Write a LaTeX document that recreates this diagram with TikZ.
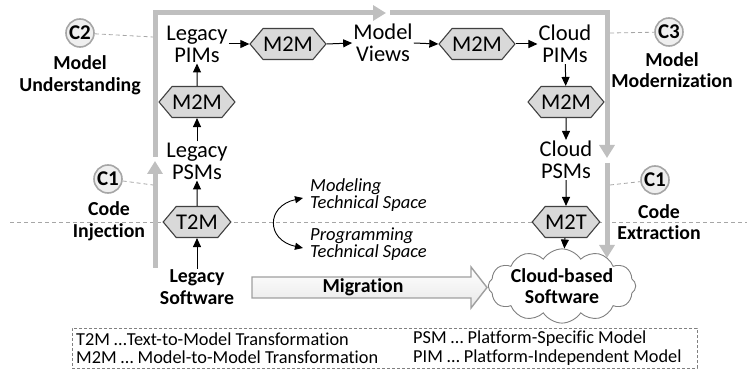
\documentclass[tikz,border=0pt]{standalone}
\usepackage{fontspec}
\setmainfont{Carlito}[Ligatures={NoCommon}]
\usetikzlibrary{arrows.meta,shapes.symbols,shapes.geometric,calc}

\definecolor{framegray}{HTML}{BFBFBF}
\definecolor{hexfill}{HTML}{D9D9D9}
\definecolor{hexline}{HTML}{404040}
\definecolor{dashgray}{HTML}{A6A6A6}
\definecolor{circfill}{HTML}{EFEFEF}

\tikzset{
  lbl/.style={align=center, inner sep=1pt, font=\fontsize{22.5}{22}\selectfont},
  boldlbl/.style={align=center, inner sep=1pt, font=\fontsize{19.8}{21.5}\selectfont\bfseries},
  itlbl/.style={align=left, inner sep=1pt, font=\fontsize{18.5}{17}\selectfont\itshape},
  hexbox/.style={shape=signal, signal to=east and west, signal pointer angle=100,
    minimum width=63pt, minimum height=31pt, inner sep=0pt, fill=hexfill, draw=hexline,
    line width=1.1pt, font=\fontsize{22.5}{22}\selectfont},
  flow/.style={draw=black, line width=1pt, -{Triangle[width=8pt,length=9pt]}},
  frame/.style={draw=framegray, line width=5pt, line join=miter,
    -{Triangle[width=15pt,length=13pt]}},
  cmark/.style={circle, minimum size=28pt, inner sep=0pt, fill=circfill, draw=dashgray,
    line width=1.6pt, font=\fontsize{21}{21}\selectfont\bfseries},
  leader/.style={draw=dashgray, line width=0.8pt, dash pattern=on 4pt off 3pt},
  legtxt/.style={anchor=west, inner sep=0pt, font=\fontsize{18.3}{18}\selectfont}
}

\begin{document}
\begin{tikzpicture}[x=1pt,y=-1pt]
\useasboundingbox (0,0) rectangle (747,371);

% space divider
\coordinate (divL) at (10,222);
\coordinate (divR) at (747,222);
\draw[leader] (divL) -- (divR);

% outer process frame
\coordinate (f1a) at (155,268);
\coordinate (f1b) at (155,161);
\coordinate (f2a) at (155,157);
\coordinate (f2c) at (155,13);
\coordinate (f2b) at (386,13);
\coordinate (f3a) at (390,13);
\coordinate (f3c) at (607,13);
\coordinate (f3b) at (607,158);
\coordinate (f4a) at (607,163);
\coordinate (f4b) at (607,258);
\draw[frame] (f1a) -- (f1b);
\draw[frame] (f2a) -- (f2c) -- (f2b);
\draw[frame] (f3a) -- (f3c) -- (f3b);
\draw[frame] (f4a) -- (f4b);

% artefacts
\node[lbl] (lpim) at (197,44) {Legacy\\PIMs};
\node[lbl] (lpsm) at (197,161) {Legacy\\PSMs};
\node[boldlbl] (lsw) at (197,287) {Legacy\\Software};
\node[lbl] (mview) at (383,43) {Model\\Views};
\node[lbl] (cpim) at (565,44) {Cloud\\PIMs};
\node[lbl] (cpsm) at (566,160) {Cloud\\PSMs};
\node[cloud, cloud puffs=12, cloud puff arc=115, aspect=2.6, draw=gray, fill=white,
  line width=0.9pt, minimum width=144pt, minimum height=56pt, inner sep=0pt,
  align=center, font=\fontsize{19.8}{21.5}\selectfont\bfseries] (csw) at (562,286)
  {Cloud-based\\Software};

% transformations
\node[hexbox] (t2m) at (197,222) {T2M};
\node[hexbox] (m2ma) at (197,102) {M2M};
\node[hexbox] (m2mb) at (288,44) {M2M};
\node[hexbox] (m2mc) at (477,44) {M2M};
\node[hexbox] (m2md) at (566,102) {M2M};
\node[hexbox] (m2t) at (566,222) {M2T};

% transformation chain
\draw[flow] (lsw) -- (t2m);
\draw[flow] (t2m) -- (lpsm);
\draw[flow] (lpsm) -- (m2ma);
\draw[flow] (m2ma) -- (lpim);
\draw[flow] (lpim.east) -- (m2mb.west);
\draw[flow] (m2mb.east) -- (mview.west);
\draw[flow] (mview.east) -- (m2mc.west);
\draw[flow] (m2mc.east) -- (cpim.west);
\draw[flow] (cpim) -- (m2md);
\draw[flow] (m2md) -- (cpsm);
\draw[flow] (cpsm) -- (m2t);
\draw[flow] (m2t) -- (csw);

% technical spaces
\node[itlbl, anchor=west] (mts) at (309,195) {Modeling\\Technical Space};
\node[itlbl, anchor=west] (pts) at (309,244) {Programming\\Technical Space};
\coordinate (tsu) at (303,198);
\coordinate (tsd) at (303,248);
\draw[black, line width=0.9pt, {Triangle[width=7pt,length=8pt]}-{Triangle[width=7pt,length=8pt]}]
  (tsu) .. controls (266,206) and (266,240) .. (tsd);

% migration arrow
\shade[top color=white, bottom color=gray!18, draw=gray!75, line width=1.4pt, line join=miter]
  (252,277) -- (471,277) -- (471,267) -- (487,287.5) -- (471,308) -- (471,298)
  -- (252,298) -- cycle;
\node[boldlbl] (mig) at (363,287.5) {Migration};

% phase markers
\node[cmark] (c2) at (80,33) {C2};
\node[boldlbl] (mu) at (80,75) {Model\\Understanding};
\coordinate (c2t) at (153,37);
\draw[leader] (c2) -- (c2t);

\node[cmark] (c1l) at (108,179) {C1};
\node[boldlbl] (ci) at (109,221) {Code\\Injection};
\coordinate (c1lt) at (153,185);
\draw[leader] (c1l) -- (c1lt);

\node[cmark] (c3) at (669,32) {C3};
\node[boldlbl] (mmo) at (672,70) {Model\\Modernization};
\coordinate (c3t) at (610,33);
\draw[leader] (c3t) -- (c3);

\node[cmark] (c1r) at (655,180) {C1};
\node[boldlbl] (ce) at (659,222) {Code\\Extraction};
\coordinate (c1rt) at (610,185);
\draw[leader] (c1rt) -- (c1r);

% legend
\node[draw=gray, dash pattern=on 3pt off 2pt, line width=0.8pt, minimum width=625pt,
  minimum height=40pt, inner sep=0pt] (leg) at (384.5,348) {};
\node[legtxt] (lg1) at (76,339) {T2M …Text-to-Model Transformation};
\node[legtxt] (lg2) at (76,357.5) {M2M … Model-to-Model Transformation};
\node[legtxt] (lg3) at (413,339) {PSM … Platform-Specific Model};
\node[legtxt] (lg4) at (413,357.5) {PIM … Platform-Independent Model};
\end{tikzpicture}
\end{document}
